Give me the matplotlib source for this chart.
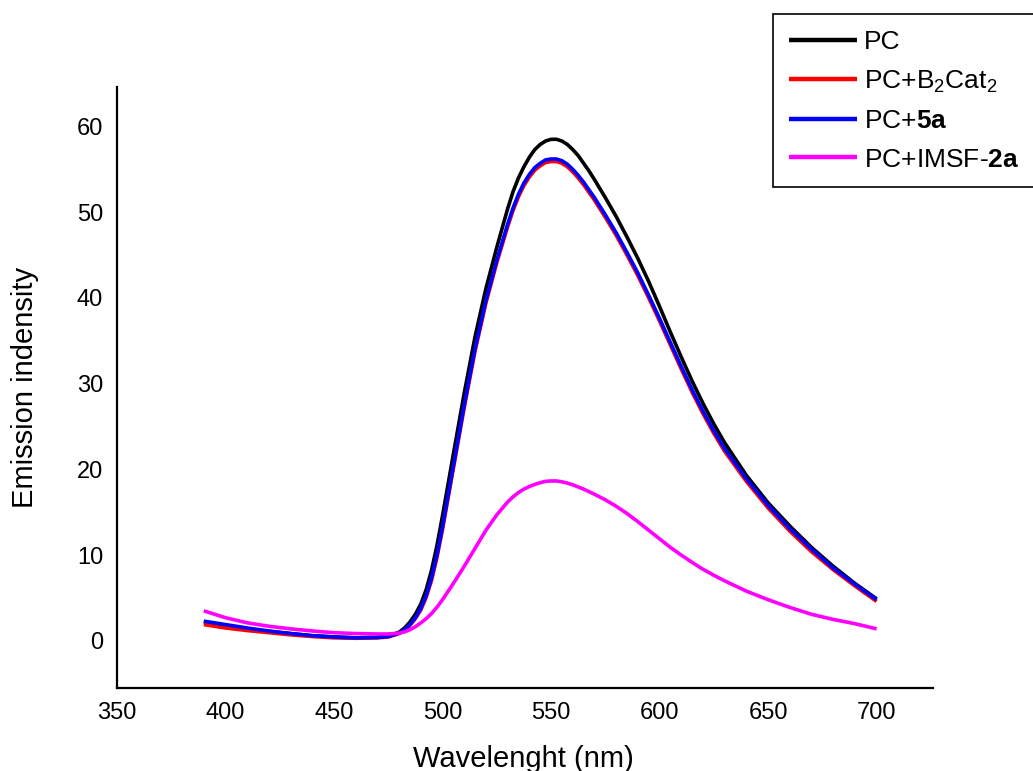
import matplotlib
matplotlib.use("Agg")
import matplotlib.pyplot as plt

plt.rcParams["font.family"] = ["Liberation Sans", "DejaVu Sans"]
plt.rcParams["mathtext.fontset"] = "custom"
plt.rcParams["mathtext.rm"] = "Liberation Sans"
plt.rcParams["mathtext.it"] = "Liberation Sans"
plt.rcParams["mathtext.bf"] = "Liberation Sans:bold"

# Emission spectra (nm vs intensity)
wavelength = [390, 400, 410, 420, 430, 440, 450, 460, 470,
              475,
              480, 482.5, 485, 487.5, 490, 492.5, 495, 497.5, 500,
              505, 510, 515, 520, 525, 530,
              532.5, 535, 537.5, 540, 542.5, 545, 547.5, 550, 552.5, 555,
              557.5, 560, 562.5, 565, 567.5, 570,
              575, 580, 585, 590, 595, 600, 605, 610, 615, 620, 625, 630,
              640, 650, 660, 670, 680, 690, 700]

pc = [2.2, 1.8, 1.4, 1.1, 0.85, 0.6, 0.45, 0.35, 0.4,
      0.55,
      1.0, 1.5, 2.2, 3.1, 4.3, 6.0, 8.3, 11.2, 14.6,
      21.8, 28.9, 35.5, 41.1, 45.9, 50.4,
      52.4, 54.0, 55.3, 56.4, 57.3, 57.9, 58.3, 58.5, 58.5, 58.3,
      57.9, 57.3, 56.6, 55.7, 54.8, 53.8,
      51.7, 49.5, 47.1, 44.6, 41.9, 39.0, 36.0, 33.1, 30.3, 27.7, 25.3, 23.1,
      19.3, 16.1, 13.4, 10.9, 8.7, 6.7, 4.9]

pc_b2cat2 = [1.9, 1.5, 1.2, 0.95, 0.7, 0.5, 0.35, 0.3, 0.35,
             0.45,
             0.85, 1.25, 1.8, 2.6, 3.6, 5.1, 7.1, 9.8, 13.0,
             20.1, 27.2, 33.8, 39.4, 44.1, 48.3,
             50.2, 51.8, 53.1, 54.1, 54.9, 55.4, 55.8, 55.9, 55.9, 55.7,
             55.3, 54.7, 54.0, 53.2, 52.3, 51.4,
             49.4, 47.3, 45.0, 42.6, 40.0, 37.3, 34.5, 31.7, 29.0, 26.5, 24.2, 22.1,
             18.6, 15.5, 12.8, 10.4, 8.3, 6.4, 4.6]

pc_5a = [2.3, 1.9, 1.5, 1.15, 0.85, 0.6, 0.45, 0.35, 0.4,
         0.5,
         0.9, 1.3, 1.9, 2.7, 3.8, 5.3, 7.4, 10.1, 13.3,
         20.4, 27.5, 34.1, 39.7, 44.4, 48.6,
         50.5, 52.1, 53.4, 54.4, 55.2, 55.7, 56.1, 56.2, 56.2, 56.0,
         55.6, 55.0, 54.3, 53.5, 52.6, 51.7,
         49.7, 47.6, 45.3, 42.9, 40.3, 37.6, 34.8, 32.0, 29.3, 26.8, 24.5, 22.4,
         18.9, 15.8, 13.1, 10.7, 8.5, 6.6, 4.8]

pc_imsf_2a = [3.5, 2.7, 2.1, 1.7, 1.4, 1.15, 0.95, 0.85, 0.8,
              0.8,
              0.9, 1.05, 1.3, 1.65, 2.1, 2.6, 3.2, 3.95, 4.8,
              6.7, 8.7, 10.8, 12.9, 14.7, 16.2,
              16.8, 17.3, 17.7, 18.0, 18.25, 18.45, 18.6, 18.65, 18.65, 18.55,
              18.4, 18.2, 17.95, 17.7, 17.4, 17.1,
              16.45, 15.7, 14.85, 13.9, 12.9, 11.9, 10.9, 10.0, 9.15, 8.35, 7.65, 7.0,
              5.8, 4.8, 3.9, 3.1, 2.5, 2.0, 1.4]

series_labels = ["PC", "PC+B$_2$Cat$_2$", "PC+$\\mathbf{5a}$", "PC+IMSF-$\\mathbf{2a}$"]
series_colors = ["#000000", "#ff0000", "#0000ff", "#ff00ff"]
x_ticks = [350, 400, 450, 500, 550, 600, 650, 700]
y_ticks = [0, 10, 20, 30, 40, 50, 60]

fig = plt.figure(figsize=(10.33, 7.71), dpi=100)
ax = fig.add_axes([117 / 1033, 83 / 771, 816 / 1033, 601 / 771])

for values, label, color in zip([pc, pc_b2cat2, pc_5a, pc_imsf_2a],
                                series_labels, series_colors):
    ax.plot(wavelength, values, color=color, lw=2.6, label=label,
            solid_joinstyle="round", solid_capstyle="butt")

ax.set_xlim(350, 726)
ax.set_ylim(-5.5, 64.6)
ax.set_xticks(x_ticks)
ax.set_yticks(y_ticks)
ax.tick_params(length=0, labelsize=17, pad=10)

for side in ("top", "right"):
    ax.spines[side].set_visible(False)
for side in ("left", "bottom"):
    ax.spines[side].set_linewidth(1.6)

ax.set_xlabel("Wavelenght (nm)", fontsize=21, va="baseline")
ax.xaxis.set_label_coords(0.4975, -0.1315)
ax.set_ylabel("Emission indensity", fontsize=21, va="center")
ax.yaxis.set_label_coords(-0.113, 0.5)

leg = fig.legend(loc="upper left", bbox_to_anchor=(773 / 1033, 1 - 14 / 771),
                 bbox_transform=fig.transFigure, fontsize=19, frameon=True,
                 fancybox=False, framealpha=1, edgecolor="#000000",
                 handlelength=2.6, handletextpad=0.25, borderpad=0.6,
                 labelspacing=0.55, borderaxespad=0)
leg.get_frame().set_linewidth(1.2)
for line in leg.get_lines():
    line.set_linewidth(3.2)

fig.savefig("out.png", dpi=100)
